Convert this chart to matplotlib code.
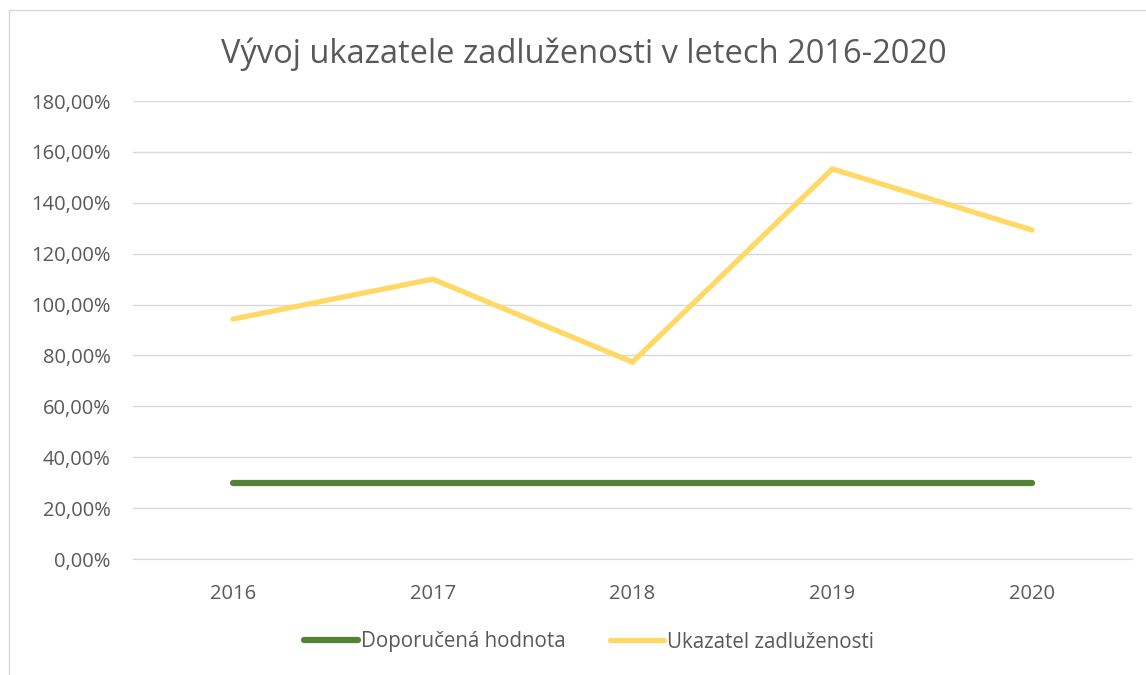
import matplotlib.pyplot as plt
from matplotlib.patches import Rectangle
from matplotlib.ticker import FuncFormatter

# data
years = ["2016", "2017", "2018", "2019", "2020"]
doporucena = [30, 30, 30, 30, 30]
ukazatel = [94.3, 110.0, 77.4, 153.3, 129.3]

plt.rcParams['font.family'] = ['Open Sans', 'DejaVu Sans']
txt = "#595959"

fig = plt.figure(figsize=(11.46, 6.75), dpi=100)
ax = fig.add_axes([133/1146, 1 - 559/675, 999/1146, 458/675])

# chart frame like excel
fig.patches.append(Rectangle((9/1146, -0.01), 1.02, 1 - 10/675 + 0.01,
                             transform=fig.transFigure, fill=False,
                             edgecolor="#d9d9d9", linewidth=1))

x = range(len(years))
ax.plot(x, doporucena, color="#548235", lw=4.5, solid_capstyle="round",
        label="Doporučená hodnota")
ax.plot(x, ukazatel, color="#FFD966", lw=3.8, solid_capstyle="round",
        solid_joinstyle="miter", label="Ukazatel zadluženosti")

ax.set_xlim(-0.5, 4.5)
ax.set_ylim(0, 180)
ax.set_yticks(range(0, 181, 20))
ax.yaxis.set_major_formatter(FuncFormatter(lambda v, p: f"{v:.2f}%".replace(".", ",")))
ax.set_xticks(list(x))
ax.set_xticklabels(years)
ax.grid(axis="y", color="#d9d9d9", lw=1)
ax.set_axisbelow(True)
for s in ["top", "right", "left"]:
    ax.spines[s].set_visible(False)
ax.spines["bottom"].set_color("#d9d9d9")
ax.tick_params(length=0, labelsize=14.5, colors=txt)
ax.tick_params(axis="y", pad=16)
ax.tick_params(axis="x", pad=18)

fig.text(0.509, 1 - 54/675, "Vývoj ukazatele zadluženosti v letech 2016-2020",
         ha="center", va="center", fontsize=23.5, color=txt)

leg = fig.legend(loc="center", bbox_to_anchor=(0.514, 1 - 642/675), ncol=2,
                 frameon=False, fontsize=14.8, handlelength=2.6, handletextpad=0.15,
                 columnspacing=2.2)
for t in leg.get_texts():
    t.set_color(txt)

fig.savefig("out.png", dpi=100)
